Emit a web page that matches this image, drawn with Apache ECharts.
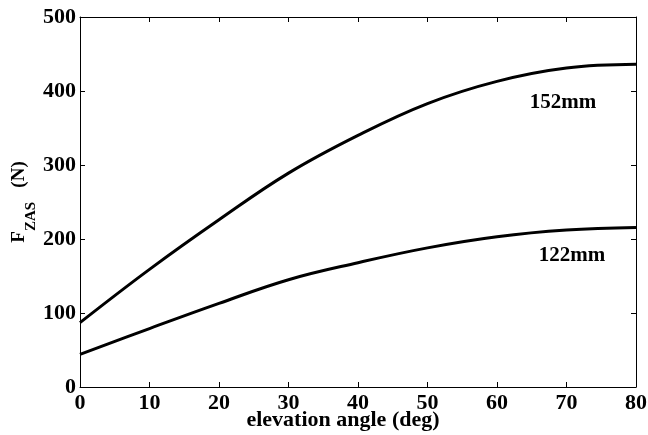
<!DOCTYPE html>
<html>
<head>
<meta charset="utf-8">
<script src="https://cdn.jsdelivr.net/npm/echarts@6/dist/echarts.min.js"></script>
<style>
  html, body { margin: 0; padding: 0; background: #fff; }
  #chart { width: 648px; height: 435px; }
</style>
</head>
<body>
<div id="chart"></div>
<script>
// Elevation angle samples (deg)
const angles = [0, 10, 20, 30, 40, 50, 60, 70, 80];
// Force for each calibre (N)
const force152 = [87, 159, 226, 289, 340, 383, 413, 431, 436];
const force122 = [44, 79, 113, 145, 168, 188, 203, 212, 215.5];
// Curve labels and where they sit, in data units [angle, force]
const curveNames = ['152mm', '122mm'];
const labelAt = [[69.5, 385], [70.8, 177]];

const FONT = 'Liberation Serif';
const pairs = (ys) => angles.map((a, i) => [a, ys[i]]);

function frameAxis(extra) {
  return Object.assign({
    axisLine: { show: true, onZero: false, lineStyle: { color: '#000', width: 1 } },
    axisTick: { show: true, inside: true, length: 5, lineStyle: { color: '#000', width: 1 } },
    splitLine: { show: false }
  }, extra);
}

function curve(name, ys, at) {
  return {
    name: name,
    type: 'line',
    data: pairs(ys),
    smooth: 0.4,
    showSymbol: false,
    symbol: 'none',
    lineStyle: { color: '#000', width: 3 },
    z: 3,
    markPoint: {
      symbol: 'circle',
      symbolSize: 0,
      data: [{ coord: at }],
      label: {
        show: true,
        position: 'inside',
        formatter: name,
        color: '#000',
        fontFamily: FONT,
        fontWeight: 'bold',
        fontSize: 21
      }
    }
  };
}

const tickLabel = { color: '#000', fontFamily: FONT, fontWeight: 'bold', fontSize: 22 };

const chart = echarts.init(document.getElementById('chart'));
chart.setOption({
  backgroundColor: '#fff',
  animation: false,
  grid: { left: 80, right: 12, top: 17, bottom: 48, outerBoundsMode: 'none', containLabel: false },
  xAxis: [
    frameAxis({
      type: 'value', min: 0, max: 80, interval: 10, position: 'bottom',
      name: 'elevation angle (deg)',
      nameLocation: 'middle',
      nameGap: 22,
      nameMoveOverlap: false,
      nameTextStyle: { color: '#000', fontFamily: FONT, fontWeight: 'bold', fontSize: 22, padding: [0, 30, 0, 0] },
      axisLabel: Object.assign({ margin: 5 }, tickLabel)
    }),
    frameAxis({
      type: 'value', min: 0, max: 80, interval: 10, position: 'top',
      axisLabel: { show: false }
    })
  ],
  yAxis: [
    frameAxis({
      type: 'value', min: 0, max: 500, interval: 100, position: 'left',
      name: '{f|F}{s|ZAS}{n|   (N)}',
      nameLocation: 'middle',
      nameGap: 41,
      nameMoveOverlap: false,
      nameTextStyle: {
        color: '#000',
        rich: {
          f: { fontFamily: FONT, fontWeight: 'bold', fontSize: 19, color: '#000' },
          s: { fontFamily: FONT, fontWeight: 'bold', fontSize: 15, color: '#000', padding: [24, 0, 0, 0] },
          n: { fontFamily: FONT, fontWeight: 'bold', fontSize: 19, color: '#000' }
        }
      },
      axisLabel: Object.assign({ margin: 4 }, tickLabel)
    }),
    frameAxis({
      type: 'value', min: 0, max: 500, interval: 100, position: 'right',
      axisLabel: { show: false }
    })
  ],
  series: [
    curve(curveNames[0], force152, labelAt[0]),
    curve(curveNames[1], force122, labelAt[1])
  ]
});
</script>
</body>
</html>
